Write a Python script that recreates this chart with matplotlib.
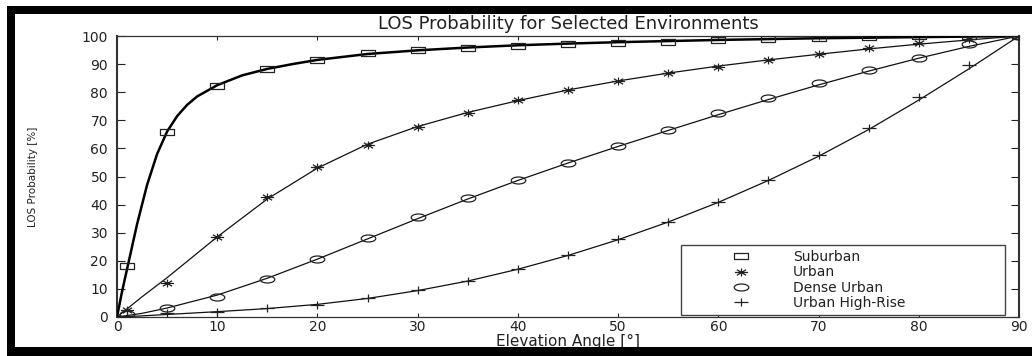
import matplotlib
matplotlib.use("Agg")
import matplotlib.pyplot as plt
from matplotlib.path import Path
from matplotlib.patches import Rectangle
from matplotlib.transforms import Affine2D
import numpy as np

# ---------------- data ----------------
title = "LOS Probability for Selected Environments"
xlabel = "Elevation Angle [°]"
ylabel = "LOS Probability [%]"
series_names = ["Suburban", "Urban", "Dense Urban", "Urban High-Rise"]

x_ticks = [0, 10, 20, 30, 40, 50, 60, 70, 80, 90]
y_ticks = [0, 10, 20, 30, 40, 50, 60, 70, 80, 90, 100]

# measured points (markers)
meas_angles = [1, 5, 10, 15, 20, 25, 30, 35, 40, 45, 50, 55, 60, 65, 70, 75, 80, 85, 90]
suburban_pts = [18.1, 65.9, 82.2, 88.3, 91.5, 94.0, 95.0, 95.6, 96.5, 97.0, 97.6, 97.9,
                98.6, 99.0, 99.3, 99.7, 99.9, 99.9, 100.0]
urban_pts = [2.5, 12.2, 28.4, 42.8, 53.5, 61.2, 67.7, 72.7, 77.2, 80.8, 84.0, 86.7,
             89.1, 91.5, 93.5, 95.6, 97.6, 99.0, 100.0]
dense_pts = [1.0, 3.1, 7.2, 13.4, 20.5, 28.0, 35.5, 42.5, 48.8, 54.9, 60.9, 66.5,
             72.5, 77.8, 83.2, 87.9, 92.3, 97.0, 100.0]
highrise_pts = [0.3, 1.3, 1.9, 3.1, 4.3, 6.6, 9.6, 12.9, 17.0, 22.0, 27.6, 33.9,
                41.0, 48.8, 57.7, 67.2, 78.4, 89.7, 100.0]

# fitted curves (lines)
sub_curve_angles = [0, 0.5, 1, 1.5, 2, 3, 4, 5, 6, 7, 8, 10, 12.5, 15, 17.5, 20, 25, 30,
                    35, 40, 45, 50, 55, 60, 65, 70, 75, 80, 85, 90]
suburban_curve = [0, 9, 17, 25, 33, 47, 58, 66, 71.5, 75.5, 78.5, 82.5, 86, 88.3, 90,
                  91.5, 93.6, 94.9, 95.9, 96.7, 97.3, 97.8, 98.2, 98.6, 98.9, 99.2,
                  99.4, 99.6, 99.8, 100]
curve_angles = [0, 2.5, 5, 10, 15, 20, 25, 30, 35, 40, 45, 50, 55, 60, 65, 70, 75, 80, 85, 90]
urban_curve = [0, 7.2, 14, 28.5, 42, 53, 61.5, 67.8, 72.8, 77, 80.8, 84, 86.8, 89.3,
               91.5, 93.5, 95.4, 97.1, 98.6, 100]
dense_curve = [0, 1.3, 3.2, 7.8, 13.8, 20.6, 27.8, 35, 42, 48.6, 54.8, 60.7, 66.4, 72,
               77.4, 82.6, 87.5, 92.1, 96.3, 100]
highrise_curve = [0, 0.4, 0.9, 1.9, 3.0, 4.5, 6.6, 9.4, 12.8, 17, 21.9, 27.5, 33.8, 40.8,
                  48.6, 57.2, 66.7, 77.2, 88.3, 100]

# ---------------- marker shapes (horizontally stretched, like the reference) ----------------
def rect_marker():
    v = [(-1, -0.45), (1, -0.45), (1, 0.45), (-1, 0.45), (-1, -0.45)]
    return Path(v, [Path.MOVETO, Path.LINETO, Path.LINETO, Path.LINETO, Path.CLOSEPOLY])

def ellipse_marker():
    return Path.unit_circle().transformed(Affine2D().scale(1.0, 0.48))

def asterisk_marker():
    a = 0.6
    v = [(-1, 0), (1, 0), (0, -a), (0, a), (-0.7, -0.7 * a), (0.7, 0.7 * a),
         (-0.7, 0.7 * a), (0.7, -0.7 * a)]
    c = [Path.MOVETO, Path.LINETO] * 4
    return Path(v, c)

def plus_marker():
    a = 0.55
    v = [(-1, 0), (1, 0), (0, -a), (0, a)]
    c = [Path.MOVETO, Path.LINETO] * 2
    return Path(v, c)

plt.rcParams['font.family'] = ['DejaVu Sans']

W, H = 1032, 356
fig = plt.figure(figsize=(W / 100, H / 100), dpi=100)
fig.patch.set_facecolor("white")

L, R, T, B = 117, 1019, 36, 317
ax = fig.add_axes([L / W, 1 - B / H, (R - L) / W, (B - T) / H])

# lines
ax.plot(sub_curve_angles, suburban_curve, color="black", lw=1.8, zorder=3)
ax.plot(curve_angles, urban_curve, color="#111111", lw=0.9, zorder=3)
ax.plot(curve_angles, dense_curve, color="#111111", lw=0.9, zorder=3)
ax.plot(curve_angles, highrise_curve, color="#111111", lw=0.9, zorder=3)

# markers
mk = dict(linestyle="none", color="#222222", markerfacecolor="none", markeredgewidth=0.9, zorder=4)
ax.plot(meas_angles, suburban_pts, marker=rect_marker(), markersize=9.5, label=series_names[0], **mk)
ax.plot(meas_angles, urban_pts, marker=asterisk_marker(), markersize=9.5, label=series_names[1], **mk)
ax.plot(meas_angles, dense_pts, marker=ellipse_marker(), markersize=10.5, label=series_names[2], **mk)
ax.plot(meas_angles, highrise_pts, marker=plus_marker(), markersize=10.5, label=series_names[3], **mk)

ax.set_xlim(0, 90)
ax.set_ylim(0, 100)
ax.set_xticks(x_ticks)
ax.set_yticks(y_ticks)
ax.tick_params(axis="both", direction="in", top=True, right=True, labelsize=10, colors="#222222")
ax.tick_params(axis="x", length=3, width=0.8, pad=2)
ax.tick_params(axis="y", length=6, width=0.8, pad=6.5)
for s in ["left", "right"]:
    ax.spines[s].set_linewidth(1.5)
for s in ["top", "bottom"]:
    ax.spines[s].set_linewidth(0.9)
for s in ax.spines.values():
    s.set_color("#333333")

ax.set_title(title, fontsize=13, pad=5, color="#222222")
ax.set_xlabel(xlabel, fontsize=11, color="#222222")
ax.xaxis.set_label_coords(0.5, -0.061)
ax.set_ylabel(ylabel, fontsize=7.5, color="#222222")
ax.yaxis.set_label_coords(-0.088, 0.5)

# legend box: x 681..1005, y 245..315 (pixels)
lx0 = (681 - L) / (R - L)
lx1 = (1005 - L) / (R - L)
ly0 = (B - 315) / (B - T)
ly1 = (B - 245) / (B - T)
leg = ax.legend(loc="lower left", bbox_to_anchor=(lx0, ly0, lx1 - lx0, ly1 - ly0),
                mode="expand", borderaxespad=0, fontsize=10, labelspacing=0.1,
                handlelength=8.0, handletextpad=-0.3, borderpad=0.35,
                fancybox=False, framealpha=1, edgecolor="#444444")
leg.get_frame().set_linewidth(1.0)
for t in leg.get_texts():
    t.set_color("#222222")

# black frame around the picture (as in the reference screenshot)
def band(x0, y0, x1, y1):
    fig.add_artist(Rectangle((x0 / W, 1 - y1 / H), (x1 - x0) / W, (y1 - y0) / H,
                             transform=fig.transFigure, facecolor="black",
                             edgecolor="none", zorder=10))

band(7, 6, W, 14)
band(7, 6, 15, H)
band(7, 347, W, H)

fig.savefig("out.png", dpi=100, facecolor="white")
